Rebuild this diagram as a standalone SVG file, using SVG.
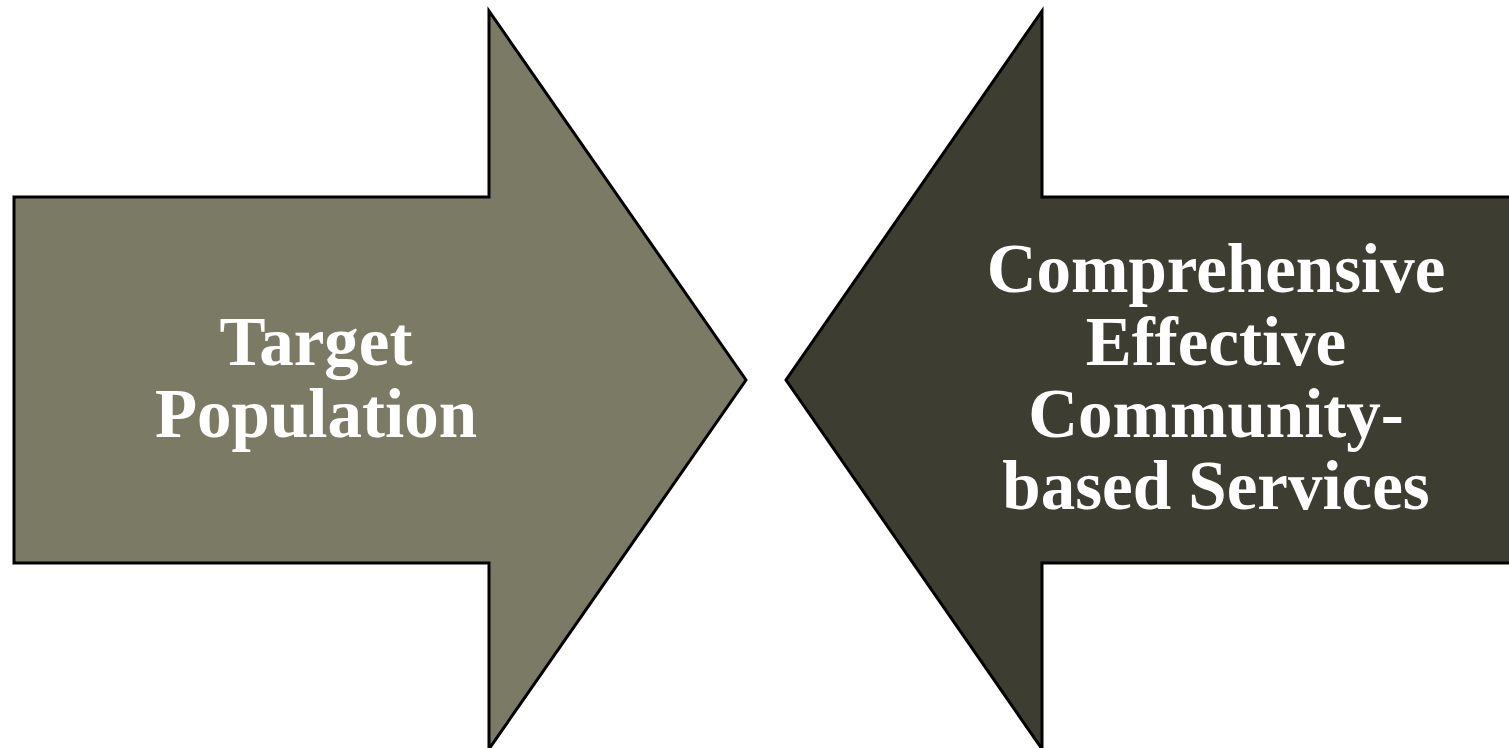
<svg xmlns="http://www.w3.org/2000/svg" width="1509" height="748" viewBox="0 0 1509 748">
<style>
.arrow{stroke:#000;stroke-width:3;stroke-linejoin:miter;stroke-miterlimit:20}
.lbl{font-family:"Liberation Serif","Times New Roman",serif;font-weight:bold;font-size:69px;fill:#fff;text-anchor:middle}
</style>
<rect width="1509" height="748" fill="#fff"/>
<g id="target-population">
<polygon class="arrow" fill="#7A7A65" points="14,197 489,197 489,11 746,380 489,749 489,563 14,563"/>
<text class="lbl" x="316" y="365">Target</text>
<text class="lbl" x="316" y="437">Population</text>
</g>
<g id="services">
<polygon class="arrow" fill="#3D3D31" points="1512,197 1042,197 1042,11 786,380 1042,749 1042,563 1512,563"/>
<text class="lbl" x="1216" y="292">Comprehensive</text>
<text class="lbl" x="1216" y="365">Effective</text>
<text class="lbl" x="1216" y="437">Community-</text>
<text class="lbl" x="1216" y="509">based Services</text>
</g>
<g id="connectors"></g>
</svg>
